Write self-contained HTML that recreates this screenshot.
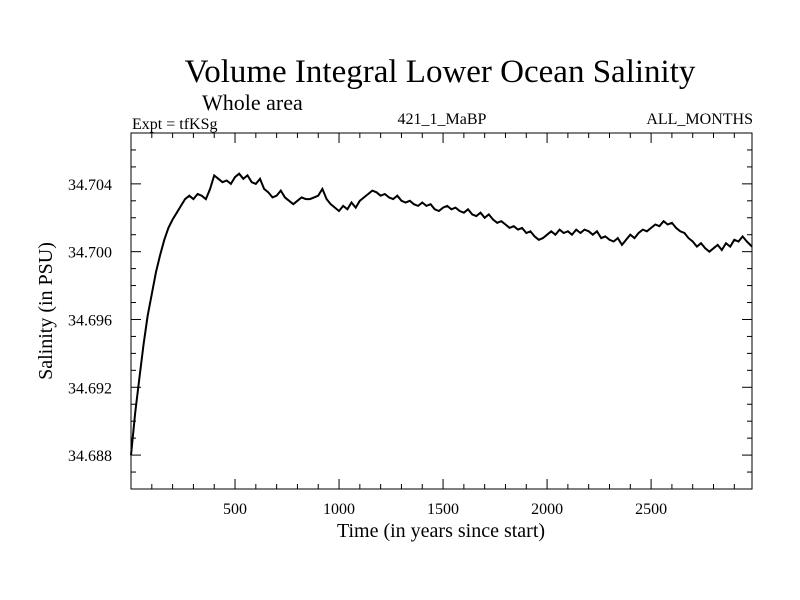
<!DOCTYPE html>
<html><head><meta charset="utf-8"><style>
body{margin:0;background:#fff}
svg{display:block;font-family:"Liberation Serif",serif}
</style></head><body>
<svg id="chart" width="800" height="600">
<text x="440" y="82" font-size="33" text-anchor="middle">Volume Integral Lower Ocean Salinity</text>
<text x="202" y="110" font-size="22">Whole area</text>
<text x="132" y="129" font-size="16">Expt = tfKSg</text>
<text x="442" y="124" font-size="16" text-anchor="middle">421_1_MaBP</text>
<text x="753" y="124" font-size="16" text-anchor="end">ALL_MONTHS</text>
<text x="441" y="537" font-size="20" text-anchor="middle">Time (in years since start)</text>
<text transform="translate(52,311) rotate(-90)" font-size="20" text-anchor="middle">Salinity (in PSU)</text>
<g id="axes"></g>
<path id="line" fill="none" stroke="#000" stroke-width="2"/>
</svg>
<script>
const years=[0,20,40,60,80,100,120,140,160,180,200,220,240,260,280,300,320,340,360,380,400,420,440,460,480,500,520,540,560,580,600,620,640,660,680,700,720,740,760,780,800,820,840,860,880,900,920,940,960,980,1000,1020,1040,1060,1080,1100,1120,1140,1160,1180,1200,1220,1240,1260,1280,1300,1320,1340,1360,1380,1400,1420,1440,1460,1480,1500,1520,1540,1560,1580,1600,1620,1640,1660,1680,1700,1720,1740,1760,1780,1800,1820,1840,1860,1880,1900,1920,1940,1960,1980,2000,2020,2040,2060,2080,2100,2120,2140,2160,2180,2200,2220,2240,2260,2280,2300,2320,2340,2360,2380,2400,2420,2440,2460,2480,2500,2520,2540,2560,2580,2600,2620,2640,2660,2680,2700,2720,2740,2760,2780,2800,2820,2840,2860,2880,2900,2920,2940,2960,2985];
const salinity=[34.6880,34.6905,34.6925,34.6945,34.6962,34.6975,34.6988,34.6998,34.7007,34.7014,34.7019,34.7023,34.7027,34.7031,34.7033,34.7031,34.7034,34.7033,34.7031,34.7037,34.7045,34.7043,34.7041,34.7042,34.7040,34.7044,34.7046,34.7043,34.7045,34.7041,34.7040,34.7043,34.7037,34.7035,34.7032,34.7033,34.7036,34.7032,34.7030,34.7028,34.7030,34.7032,34.7031,34.7031,34.7032,34.7033,34.7037,34.7031,34.7028,34.7026,34.7024,34.7027,34.7025,34.7029,34.7026,34.7030,34.7032,34.7034,34.7036,34.7035,34.7033,34.7034,34.7032,34.7031,34.7033,34.7030,34.7029,34.7030,34.7028,34.7027,34.7029,34.7027,34.7028,34.7025,34.7024,34.7026,34.7027,34.7025,34.7026,34.7024,34.7023,34.7025,34.7022,34.7021,34.7023,34.7020,34.7022,34.7019,34.7017,34.7018,34.7016,34.7014,34.7015,34.7013,34.7014,34.7011,34.7012,34.7009,34.7007,34.7008,34.7010,34.7012,34.7010,34.7013,34.7011,34.7012,34.7010,34.7013,34.7011,34.7013,34.7012,34.7010,34.7012,34.7008,34.7009,34.7007,34.7006,34.7008,34.7004,34.7007,34.7010,34.7008,34.7011,34.7013,34.7012,34.7014,34.7016,34.7015,34.7018,34.7016,34.7017,34.7014,34.7012,34.7011,34.7008,34.7006,34.7003,34.7005,34.7002,34.7000,34.7002,34.7004,34.7001,34.7005,34.7003,34.7007,34.7006,34.7009,34.7006,34.7003];
const xTicks=[500,1000,1500,2000,2500];
const yTicks=[34.688,34.692,34.696,34.700,34.704];
const yTickLabels=["34.688","34.692","34.696","34.700","34.704"];
const L=131,R=752,T=133,B=489,X0=0,X1=2985,Y0=34.686,Y1=34.707;
const sx=v=>L+(v-X0)/(X1-X0)*(R-L);
const sy=v=>B-(v-Y0)/(Y1-Y0)*(B-T);
const NS="http://www.w3.org/2000/svg",g=document.getElementById('axes');
function mk(tag,a){const e=document.createElementNS(NS,tag);for(const k in a)e.setAttribute(k,a[k]);g.appendChild(e);return e;}
const fr=mk('rect',{x:L,y:T,width:R-L,height:B-T,fill:'none',stroke:'#000','stroke-width':1});


for(let v=100;v<X1;v+=100){const maj=v%500===0,len=maj?10:5,x=sx(v);
 mk('line',{x1:x,x2:x,y1:B,y2:B-len,stroke:'#000'});mk('line',{x1:x,x2:x,y1:T,y2:T+len,stroke:'#000'});}
xTicks.forEach(v=>{const t=mk('text',{x:sx(v),y:B+25,'font-size':16,'text-anchor':'middle'});t.textContent=v;
 
 });
for(let i=1;i<21;i++){const v=Y0+i*0.001,maj=Math.abs(((v-34.688)/0.004)-Math.round((v-34.688)/0.004))<1e-6,len=maj?10:5,y=sy(v);
 mk('line',{x1:L,x2:L+len,y1:y,y2:y,stroke:'#000'});mk('line',{x1:R,x2:R-len,y1:y,y2:y,stroke:'#000'});}
yTicks.forEach((v,i)=>{const t=mk('text',{x:L-19,y:sy(v)+6,'font-size':16,'text-anchor':'end'});t.textContent=yTickLabels[i];
 
 });
document.getElementById('line').setAttribute('d',years.map((x,i)=>(i?'L':'M')+sx(x).toFixed(1)+','+sy(salinity[i]).toFixed(1)).join(''));
</script>
</body></html>
